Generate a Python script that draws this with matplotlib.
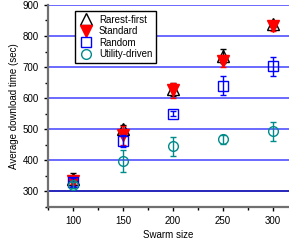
import numpy as np
import matplotlib.pyplot as plt
from matplotlib.ticker import MultipleLocator
from matplotlib.lines import Line2D

swarm = [100, 150, 200, 250, 300]

rarest = [340, 500, 628, 735, 838]
rarest_err = [18, 15, 20, 22, 10]
standard = [335, 480, 625, 720, 832]
standard_err = [10, 30, 25, 20, 15]
random_ = [330, 462, 550, 640, 703]
random_err = [12, 20, 8, 30, 30]
utility = [320, 397, 445, 468, 493]
utility_err = [10, 35, 30, 15, 30]

plt.rcParams['font.family'] = ['Liberation Sans', 'DejaVu Sans']

fig = plt.figure(figsize=(2.89, 2.47), dpi=100)
ax = fig.add_axes([0.166, 0.162, 0.834, 0.818])

# horizontal grid lines
for y in [400, 500, 600, 700, 800, 900]:
    ax.axhline(y, color='#5050ff', lw=1.2, zorder=1)
ax.axhline(300, color='#0000b0', lw=1.2, zorder=1)

ax.errorbar(swarm, rarest, yerr=rarest_err, fmt='^', ms=8, mfc='none', mec='black',
            mew=1.0, ecolor='black', elinewidth=1, capsize=2.5, zorder=3)
ax.errorbar(swarm, standard, yerr=standard_err, fmt='v', ms=8, mfc='red', mec='red',
            ecolor='red', elinewidth=1, capsize=2.5, zorder=4)
ax.errorbar(swarm, random_, yerr=random_err, fmt='s', ms=7, mfc='none', mec='#0000ff',
            mew=1.0, ecolor='#0000ff', elinewidth=1, capsize=2.5, zorder=5)
ax.errorbar(swarm, utility, yerr=utility_err, fmt='o', ms=7, mfc='none', mec='#008b8b',
            mew=1.0, ecolor='#008b8b', elinewidth=1, capsize=2.5, zorder=6)

ax.set_xlim(75, 316)
ax.set_ylim(250, 900)
ax.set_xticks(swarm)
ax.set_yticks([300, 400, 500, 600, 700, 800, 900])
ax.xaxis.set_minor_locator(MultipleLocator(25))
ax.yaxis.set_minor_locator(MultipleLocator(50))
ax.tick_params(axis='both', which='major', labelsize=7, length=3, width=1, direction='out')
ax.tick_params(axis='both', which='minor', length=2, width=1, direction='out')

for s in ['left', 'bottom']:
    ax.spines[s].set_color('#707070')
    ax.spines[s].set_linewidth(1.6)
for s in ['right', 'top']:
    ax.spines[s].set_visible(False)

ax.set_xlabel('Swarm size', fontsize=7, labelpad=3)
ax.set_ylabel('Average download time (sec)', fontsize=7, labelpad=3)

# legend shows markers only
handles = [
    Line2D([], [], ls='none', marker='^', ms=8, mfc='none', mec='black', mew=1.0),
    Line2D([], [], ls='none', marker='v', ms=8, mfc='red', mec='red'),
    Line2D([], [], ls='none', marker='s', ms=7, mfc='none', mec='#0000ff', mew=1.0),
    Line2D([], [], ls='none', marker='o', ms=7, mfc='none', mec='#008b8b', mew=1.0),
]
labels = ['Rarest-first', 'Standard', 'Random', 'Utility-driven']
leg = ax.legend(handles, labels, loc='upper left', bbox_to_anchor=(0.09, 0.995), fontsize=7,
                frameon=True, fancybox=False, edgecolor='black', handletextpad=0.6,
                borderpad=0.4, labelspacing=0.15, handlelength=1.5, framealpha=1)
leg.get_frame().set_linewidth(1.0)

fig.savefig('out.png', dpi=100)
